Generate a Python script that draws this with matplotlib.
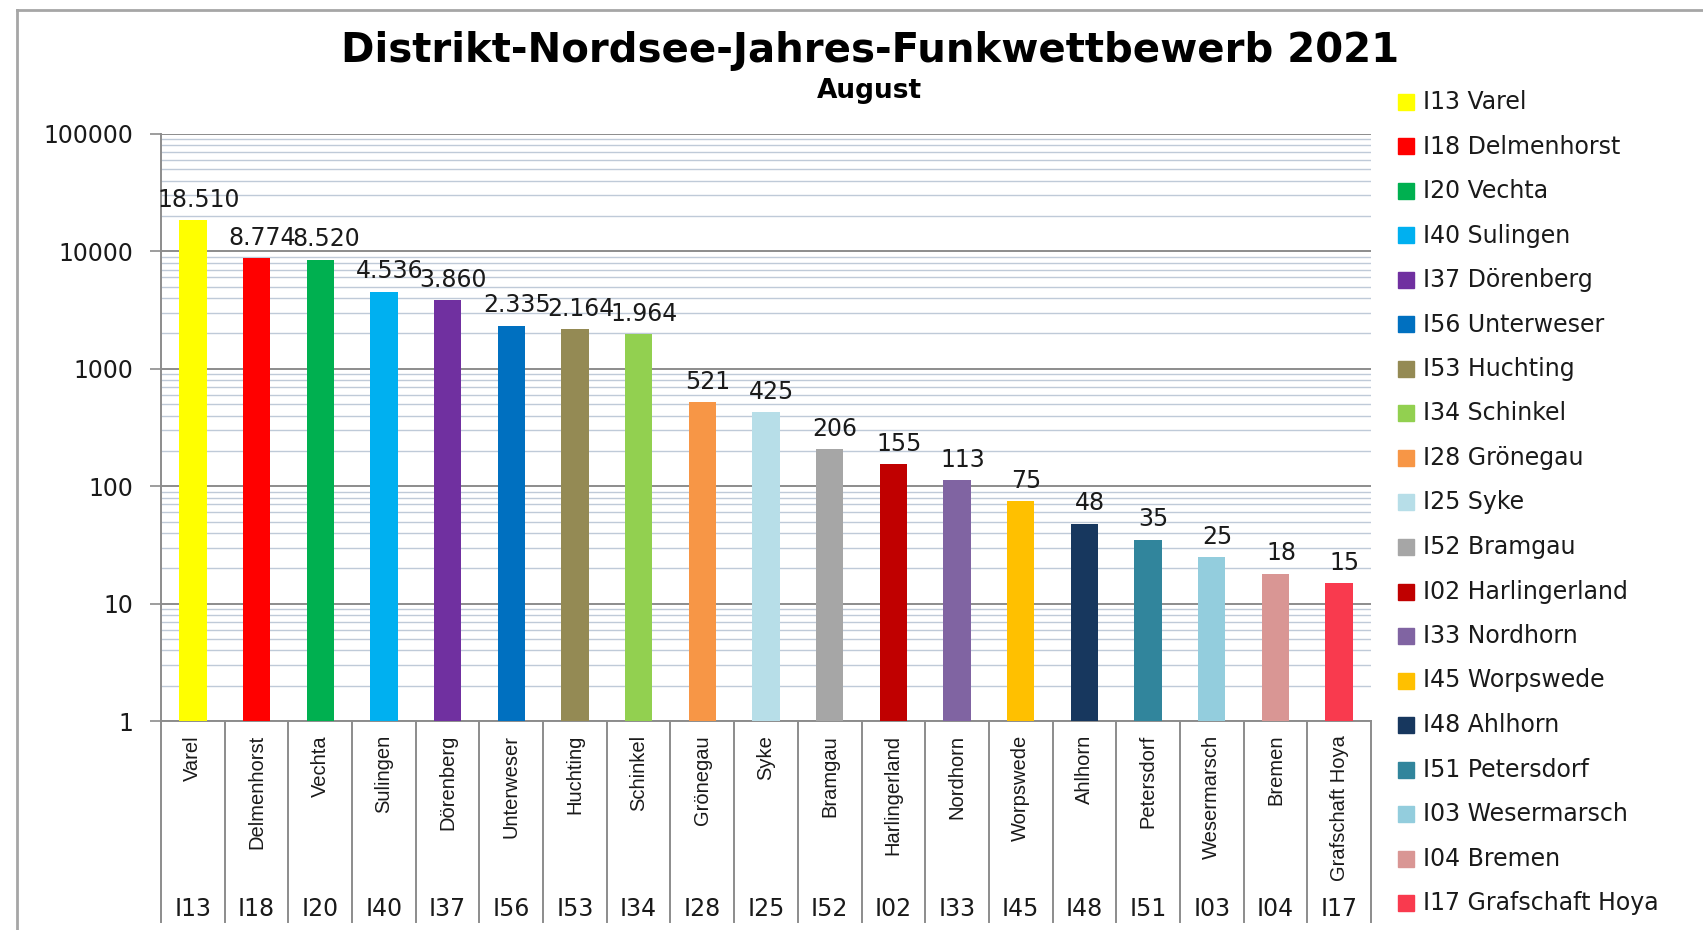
import matplotlib
matplotlib.use("Agg")
import matplotlib.pyplot as plt
from matplotlib.patches import Rectangle
from matplotlib.lines import Line2D
from matplotlib.ticker import FixedLocator, FuncFormatter, LogLocator, NullFormatter

codes = ["I13", "I18", "I20", "I40", "I37", "I56", "I53", "I34", "I28", "I25",
         "I52", "I02", "I33", "I45", "I48", "I51", "I03", "I04", "I17"]
names = ["Varel", "Delmenhorst", "Vechta", "Sulingen", "Dörenberg", "Unterweser",
         "Huchting", "Schinkel", "Grönegau", "Syke", "Bramgau", "Harlingerland",
         "Nordhorn", "Worpswede", "Ahlhorn", "Petersdorf", "Wesermarsch", "Bremen",
         "Grafschaft Hoya"]
points = [18510, 8774, 8520, 4536, 3860, 2335, 2164, 1964, 521, 425,
          206, 155, 113, 75, 48, 35, 25, 18, 15]
colors = ["#FFFF00", "#FF0000", "#00B050", "#00B0F0", "#7030A0", "#0070C0",
          "#948A54", "#92D050", "#F79646", "#B7DEE8", "#A6A6A6", "#C00000",
          "#8064A2", "#FFC000", "#17375E", "#31859C", "#93CDDD", "#D99694",
          "#F93A4E"]

W, H = 1703, 930
fig = plt.figure(figsize=(W / 100, H / 100), dpi=100)
x0, x1, ytop, ybot = 161, 1371, 134, 721
ax = fig.add_axes([x0 / W, 1 - ybot / H, (x1 - x0) / W, (ybot - ytop) / H])

xs = list(range(len(points)))
ax.bar(xs, points, width=0.43, color=colors, zorder=3)
ax.set_yscale("log")
ax.set_ylim(1, 100000)
ax.set_xlim(-0.5, len(points) - 0.5)

ax.yaxis.set_major_locator(FixedLocator([1, 10, 100, 1000, 10000, 100000]))
ax.yaxis.set_major_formatter(FuncFormatter(lambda v, p: f"{int(round(v))}"))
ax.yaxis.set_minor_locator(LogLocator(base=10, subs=range(2, 10)))
ax.yaxis.set_minor_formatter(NullFormatter())
ax.grid(which="major", axis="y", color="#8C8C8C", lw=1.4, zorder=1)
ax.grid(which="minor", axis="y", color="#BFCAD8", lw=1.0, zorder=1)
ax.tick_params(axis="y", which="major", direction="out", length=8, width=1.2,
               color="#8C8C8C", labelsize=17, pad=12, labelcolor="#1A1A1A")
ax.tick_params(axis="y", which="minor", length=0)

ax.set_xticks(xs)
ax.set_xticklabels(names, rotation=90, va="top", ha="center",
                   family=["Liberation Sans", "DejaVu Sans"], fontsize=14.5,
                   color="#1A1A1A")
ax.tick_params(axis="x", length=0, pad=10)

for s in ["top", "right"]:
    ax.spines[s].set_visible(False)
ax.spines["left"].set_color("#8C8C8C")
ax.spines["bottom"].set_color("#8C8C8C")
ax.spines["left"].set_linewidth(1.4)
ax.spines["bottom"].set_linewidth(1.4)

# category table below the axis
tr = ax.get_xaxis_transform()
depth = -(922 - ybot) / (ybot - ytop)
for b in range(len(points) + 1):
    ax.plot([b - 0.5, b - 0.5], [0, depth], transform=tr, color="#8C8C8C",
            lw=1.4, clip_on=False)
for i, c in enumerate(codes):
    ax.text(i, -(909 - ybot) / (ybot - ytop), c, transform=tr, ha="center",
            va="center", fontsize=17, color="#1A1A1A")

for i, v in enumerate(points):
    ax.annotate(f"{v:,}".replace(",", "."), (i, v), xytext=(4, 6),
                textcoords="offset points", ha="center", va="bottom",
                fontsize=17, color="#1A1A1A")

fig.text(870 / W, 1 - 51 / H, "Distrikt-Nordsee-Jahres-Funkwettbewerb 2021",
         ha="center", va="center", fontsize=29, fontweight="bold")
fig.text(869 / W, 1 - 91 / H, "August", ha="center", va="center",
         fontsize=19, fontweight="bold")

# legend
for i, (c, n, col) in enumerate(zip(codes, names, colors)):
    yc = 102 + i * 44.5
    fig.add_artist(Rectangle((1398 / W, 1 - (yc + 8) / H), 16 / W, 16 / H,
                             transform=fig.transFigure, color=col))
    fig.text(1423 / W, 1 - yc / H, f"{c} {n}", ha="left", va="center",
             fontsize=17, color="#1A1A1A")

# outer chart frame
fig.add_artist(Line2D([17 / W, 17 / W], [1 - 10 / H, 0], transform=fig.transFigure,
                      color="#A6A6A6", lw=2))
fig.add_artist(Line2D([17 / W, 1], [1 - 10 / H, 1 - 10 / H], transform=fig.transFigure,
                      color="#A6A6A6", lw=2))

fig.savefig("out.png", dpi=100)
